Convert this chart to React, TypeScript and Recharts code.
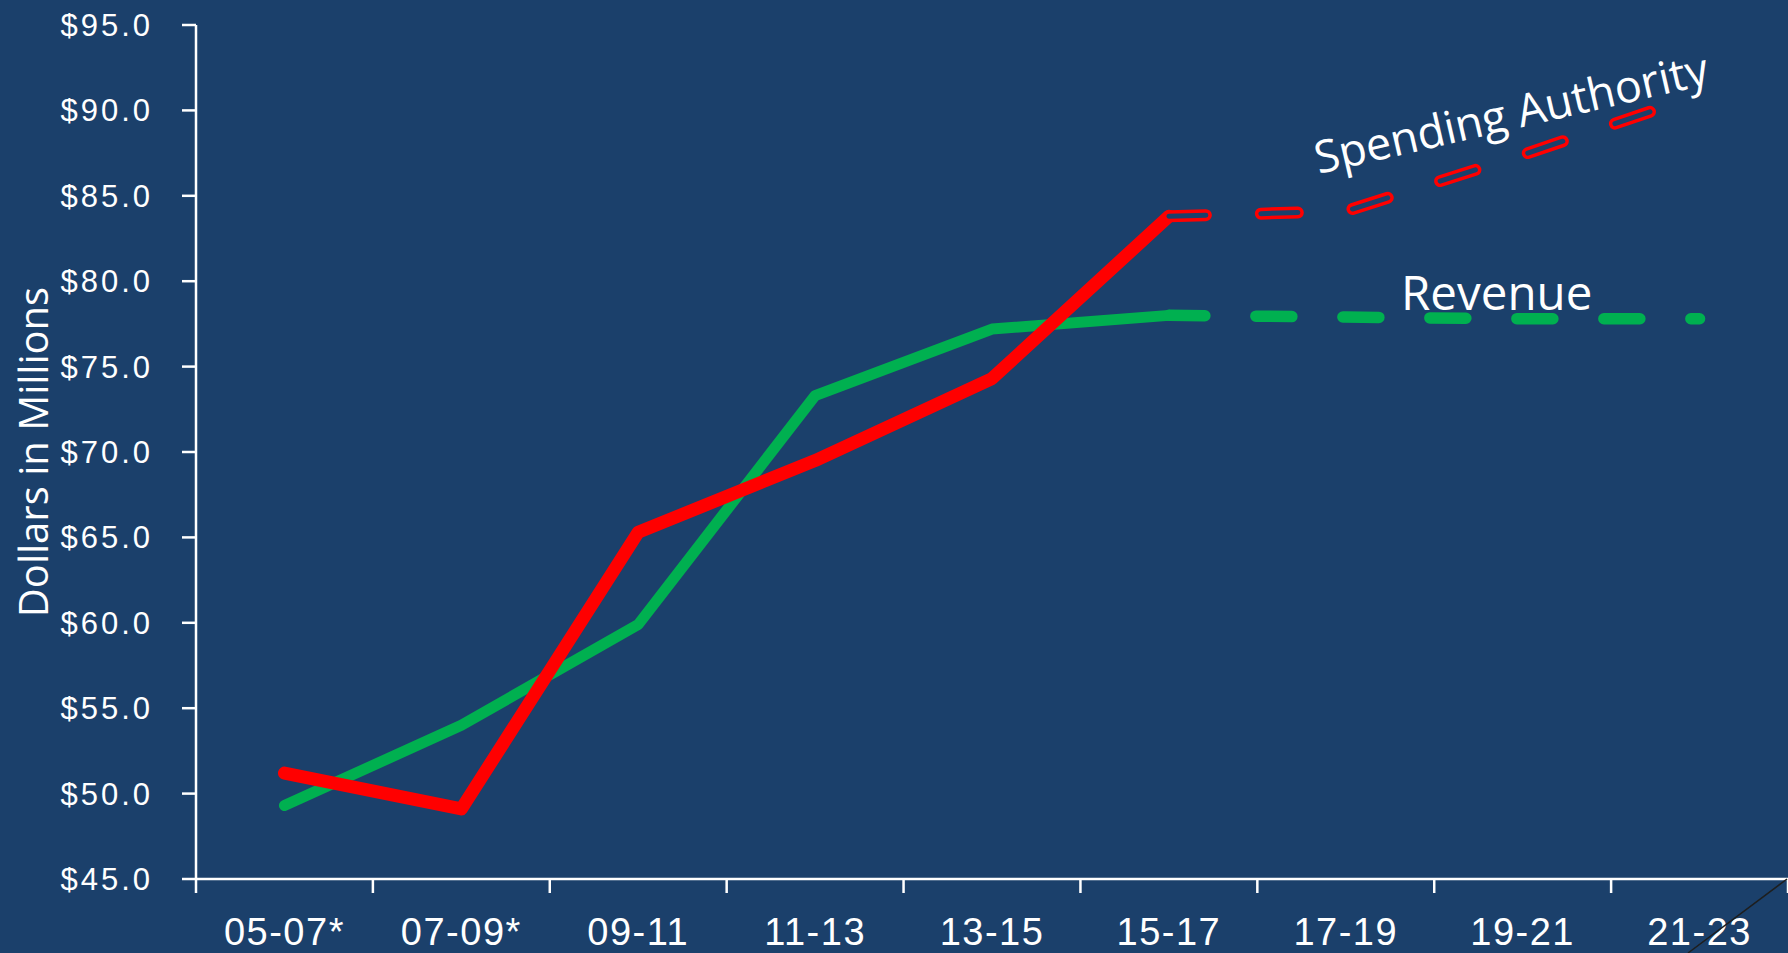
import { ComposedChart, Line, XAxis, YAxis, LabelList } from 'recharts';

const categories = ['05-07*', '07-09*', '09-11', '11-13', '13-15', '15-17', '17-19', '19-21', '21-23'];
const revenueActual = [49.3, 54.0, 59.9, 73.3, 77.2, 78.0, null, null, null];
const revenueProjected = [null, null, null, null, null, 78.0, 77.9, 77.8, 77.8];
const spendingActual = [51.2, 49.1, 65.3, 69.5, 74.3, 83.8, null, null, null];
const spendingProjected = [null, null, null, null, null, 83.8, 84.1, 87.4, 90.9];
const yTicks = [45, 50, 55, 60, 65, 70, 75, 80, 85, 90, 95];

const data = categories.map((period, i) => ({
  period,
  revenue: revenueActual[i],
  revenueProj: revenueProjected[i],
  spending: spendingActual[i],
  spendingProj: spendingProjected[i],
}));

const BG = '#1b406b';
const NUM_FONT = "'Liberation Sans', Arial, sans-serif";
const LABEL_FONT = "'Open Sans', 'Noto Sans', sans-serif";

function PeriodTick(props: any) {
  const { x, y, payload, index } = props;
  const half = payload && payload.offset ? payload.offset : 88.4;
  const last = index === categories.length - 1;
  return (
    <g>
      <line x1={x - half} y1={y} x2={x - half} y2={y + 14} stroke="#fff" strokeWidth={2.5} />
      {last && <line x1={x + half} y1={y} x2={x + half} y2={y + 14} stroke="#fff" strokeWidth={2.5} />}
      <text
        x={x}
        y={y + 39}
        dy="0.71em"
        textAnchor="middle"
        fill="#fff"
        fontSize={38}
        fontFamily={NUM_FONT}
        letterSpacing={1.5}
      >
        {payload.value}
      </text>
    </g>
  );
}

// dollar tick labels, right edge kept ~33px left of the tick marks
function DollarTick(props: any) {
  const { y, payload } = props;
  return (
    <text
      x={153}
      y={y}
      dy="0.355em"
      textAnchor="end"
      fill="#fff"
      fontSize={31}
      fontFamily={NUM_FONT}
      letterSpacing={3}
    >
      {`$${Number(payload.value).toFixed(1)}`}
    </text>
  );
}

const spendingLabel = (props: any) => {
  const { x, y, index } = props;
  if (index !== 7 || x == null || y == null) return null;
  const cx = x - 8;
  const cy = y - 26;
  return (
    <text
      x={cx}
      y={cy}
      transform={`rotate(-13 ${cx} ${cy})`}
      textAnchor="middle"
      fill="#fff"
      fontSize={45}
      fontFamily={LABEL_FONT}
    >
      Spending Authority
    </text>
  );
};

const revenueLabel = (props: any) => {
  const { x, y, index } = props;
  if (index !== 7 || x == null || y == null) return null;
  return (
    <text x={x - 26} y={y - 9} textAnchor="middle" fill="#fff" fontSize={47.5} fontFamily={LABEL_FONT}>
      Revenue
    </text>
  );
};

const yTitle = (props: any) => {
  const vb = props.viewBox || { x: 0, y: 25, height: 854 };
  const cx = vb.x + 48;
  const cy = vb.y + vb.height / 2;
  return (
    <text
      x={cx}
      y={cy}
      transform={`rotate(-90 ${cx} ${cy})`}
      textAnchor="middle"
      fill="#fff"
      fontSize={40}
      fontFamily={LABEL_FONT}
    >
      Dollars in Millions
    </text>
  );
};

export default function App() {
  return (
    <div style={{ position: 'relative', width: 1788, height: 953, background: BG }}>
      <style>{`body { margin: 0; }`}</style>
      <ComposedChart
        width={1788}
        height={953}
        data={data}
        margin={{ top: 25, right: 0, left: 0, bottom: 0 }}
      >
        <XAxis
          dataKey="period"
          scale="band"
          height={74}
          interval={0}
          tickLine={false}
          tickSize={0}
          tickMargin={0}
          axisLine={{ stroke: '#fff', strokeWidth: 2.5 }}
          tick={<PeriodTick />}
        />
        <YAxis
          width={196}
          domain={[45, 95]}
          ticks={yTicks}
          interval={0}
          tickSize={14}
          axisLine={{ stroke: '#fff', strokeWidth: 2.5 }}
          tickLine={{ stroke: '#fff', strokeWidth: 2.5 }}
          tick={<DollarTick />}
          label={yTitle}
        />
        <Line
          dataKey="revenue"
          type="linear"
          stroke="#00b050"
          strokeWidth={11}
          strokeLinecap="round"
          strokeLinejoin="round"
          dot={false}
          activeDot={false}
          isAnimationActive={false}
        />
        <Line
          dataKey="revenueProj"
          type="linear"
          stroke="#00b050"
          strokeWidth={11.5}
          strokeDasharray="36 51"
          strokeLinecap="round"
          dot={false}
          activeDot={false}
          isAnimationActive={false}
        >
          <LabelList dataKey="revenueProj" content={revenueLabel} />
        </Line>
        <Line
          dataKey="spending"
          type="linear"
          stroke="#ff0000"
          strokeWidth={13}
          strokeLinecap="round"
          strokeLinejoin="round"
          dot={false}
          activeDot={false}
          isAnimationActive={false}
        />
        <Line
          dataKey="spendingProj"
          type="linear"
          stroke="#ff0000"
          strokeWidth={12}
          strokeDasharray="37 55"
          strokeLinecap="round"
          dot={false}
          activeDot={false}
          isAnimationActive={false}
        />
        <Line
          dataKey="spendingProj"
          type="linear"
          stroke={BG}
          strokeWidth={5}
          strokeDasharray="37 55"
          strokeLinecap="round"
          dot={false}
          activeDot={false}
          isAnimationActive={false}
        >
          <LabelList dataKey="spendingProj" content={spendingLabel} />
        </Line>
      </ComposedChart>
      <svg
        width={1788}
        height={953}
        style={{ position: 'absolute', left: 0, top: 0, pointerEvents: 'none' }}
      >
        <line x1={1787} y1={879} x2={1688} y2={953} stroke="#1e1e1e" strokeWidth={1.5} />
      </svg>
    </div>
  );
}
